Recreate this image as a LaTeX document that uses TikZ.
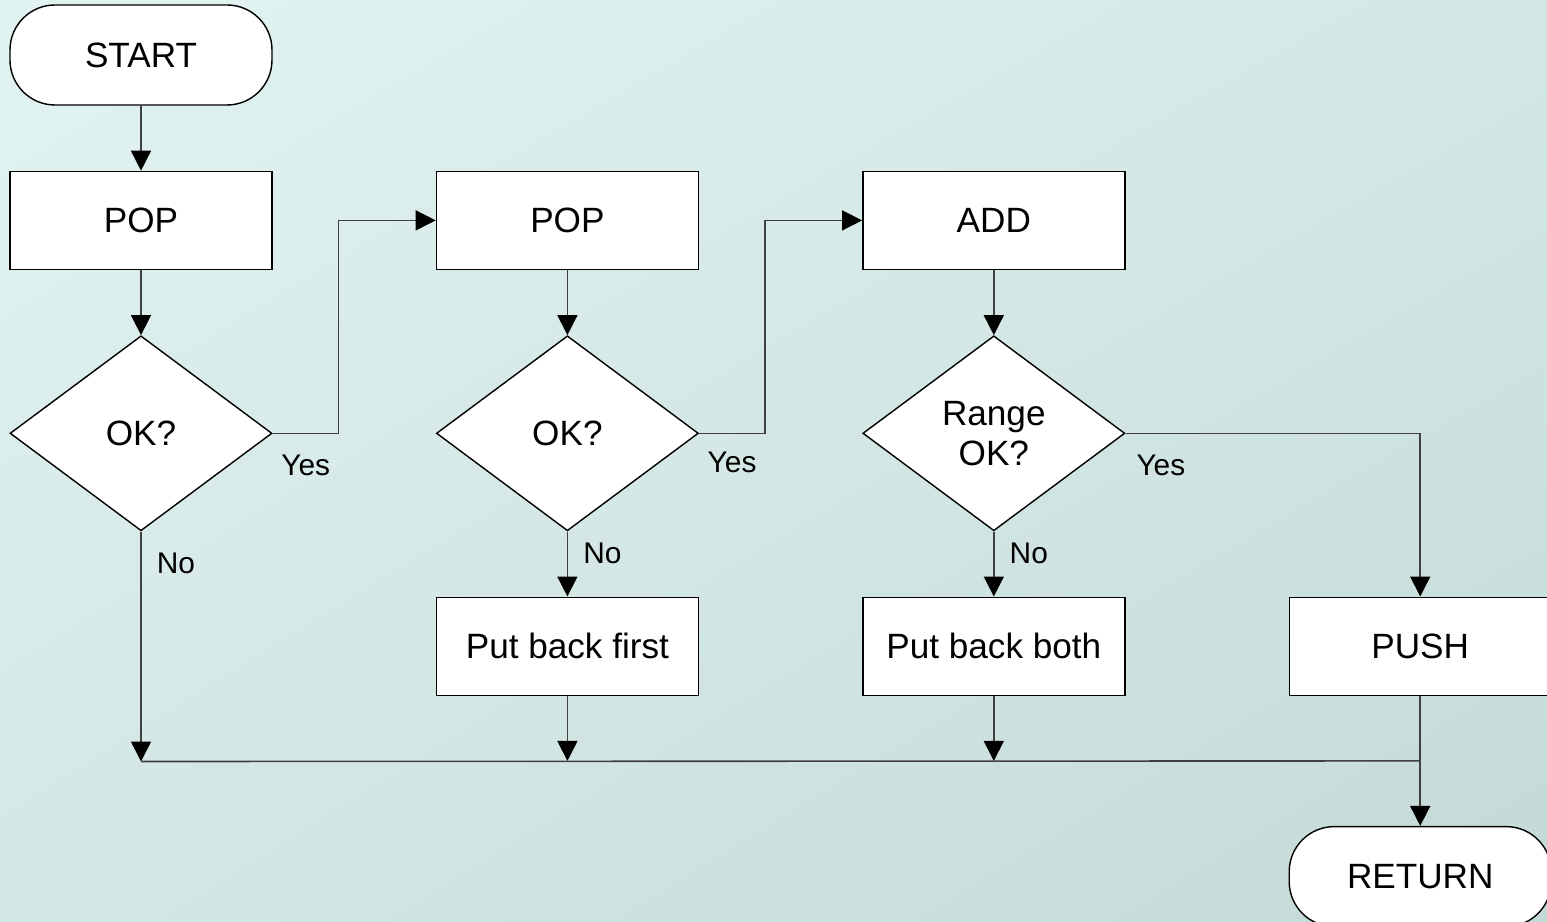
\documentclass[tikz,border=0pt]{standalone}
\usepackage{fontspec}
\setmainfont{Liberation Sans}
\usepackage{xcolor}
\usetikzlibrary{arrows.meta,positioning,shapes.geometric,shadings}

\definecolor{bgtl}{HTML}{E2F4F1}
\definecolor{bgmid}{HTML}{D4E7E4}
\definecolor{bgbr}{HTML}{C4D9D6}
\definecolor{wire}{HTML}{404040}

\begin{document}
\begin{tikzpicture}[
        >={Triangle[width=2mm,length=2mm,color=black]},
        node distance=6.5mm and 16.3mm,
        terminal/.style={rectangle, rounded corners=4.5mm, draw=black, fill=white, align=center, minimum width=26.2mm, minimum height=10mm, font=\fontsize{10}{11.5}\selectfont},
        process/.style={rectangle, draw=black, fill=white, align=center, minimum width=26.2mm, minimum height=9.8mm, font=\fontsize{10}{11.5}\selectfont},
        decision/.style={diamond, draw=black, fill=white, align=center, minimum width=26.2mm, minimum height=19.5mm, inner sep=1pt, font=\fontsize{10}{11.5}\selectfont},
        lbl/.style={font=\fontsize{8.5}{10}\selectfont},
        arrow/.style={->, draw=wire, line width=0.45pt},
        wireline/.style={draw=wire, line width=0.45pt}
    ]
        \useasboundingbox (0,0) rectangle (15.47,-9.22);
        \shade[upper left=bgtl, upper right=bgmid, lower left=bgmid, lower right=bgbr] (0,0) rectangle (15.47,-9.22);

        \node[terminal] (start) at (1.41,-0.55) {START};
        \node[process, below=of start] (pop1) {POP};
        \node[decision, below=of pop1] (ok1) {OK?};
        \node[process, right=of pop1] (pop2) {POP};
        \node[decision, below=of pop2] (ok2) {OK?};
        \node[process, right=of pop2] (add) {ADD};
        \node[decision, below=of add] (ok3) {Range\\OK?};
        \node[process, below=of ok2] (pbfirst) {Put back first};
        \node[process, below=of ok3] (pbboth) {Put back both};
        \node[process, right=of pbboth] (push) {PUSH};
        \node[terminal, below=13mm of push] (ret) {RETURN};

        \path (ok1.south) ++(0,-2.3) coordinate (j1);
        \path (pbfirst.south) ++(0,-0.65) coordinate (j2);
        \path (pbboth.south) ++(0,-0.65) coordinate (j3);
        \path (push.south) ++(0,-0.65) coordinate (j4);

        \draw[arrow] (start) -- (pop1);
        \draw[arrow] (pop1) -- (ok1);
        \draw[arrow] (pop2) -- (ok2);
        \draw[arrow] (add) -- (ok3);

        \draw[arrow] (ok1.east) -- node[lbl, midway, yshift=-3.2mm] {Yes} ++(6.6mm,0) |- (pop2.west);
        \draw[arrow] (ok2.east) -- node[lbl, midway, yshift=-2.9mm] {Yes} ++(6.6mm,0) |- (add.west);
        \draw[arrow] (ok3.east) -| node[lbl, pos=0.06, yshift=-3.2mm] {Yes} (push.north);

        \draw[arrow] (ok1.south) -- node[lbl, pos=0.14, xshift=3.5mm] {No} (j1);
        \draw[arrow] (ok2.south) -- node[lbl, pos=0.33, xshift=3.5mm] {No} (pbfirst.north);
        \draw[arrow] (ok3.south) -- node[lbl, pos=0.33, xshift=3.5mm] {No} (pbboth.north);

        \draw[arrow] (pbfirst) -- (j2);
        \draw[arrow] (pbboth) -- (j3);
        \draw[wireline] (j1) -- (j4);
        \draw[arrow] (push) -- (ret);
    \end{tikzpicture}
\end{document}
